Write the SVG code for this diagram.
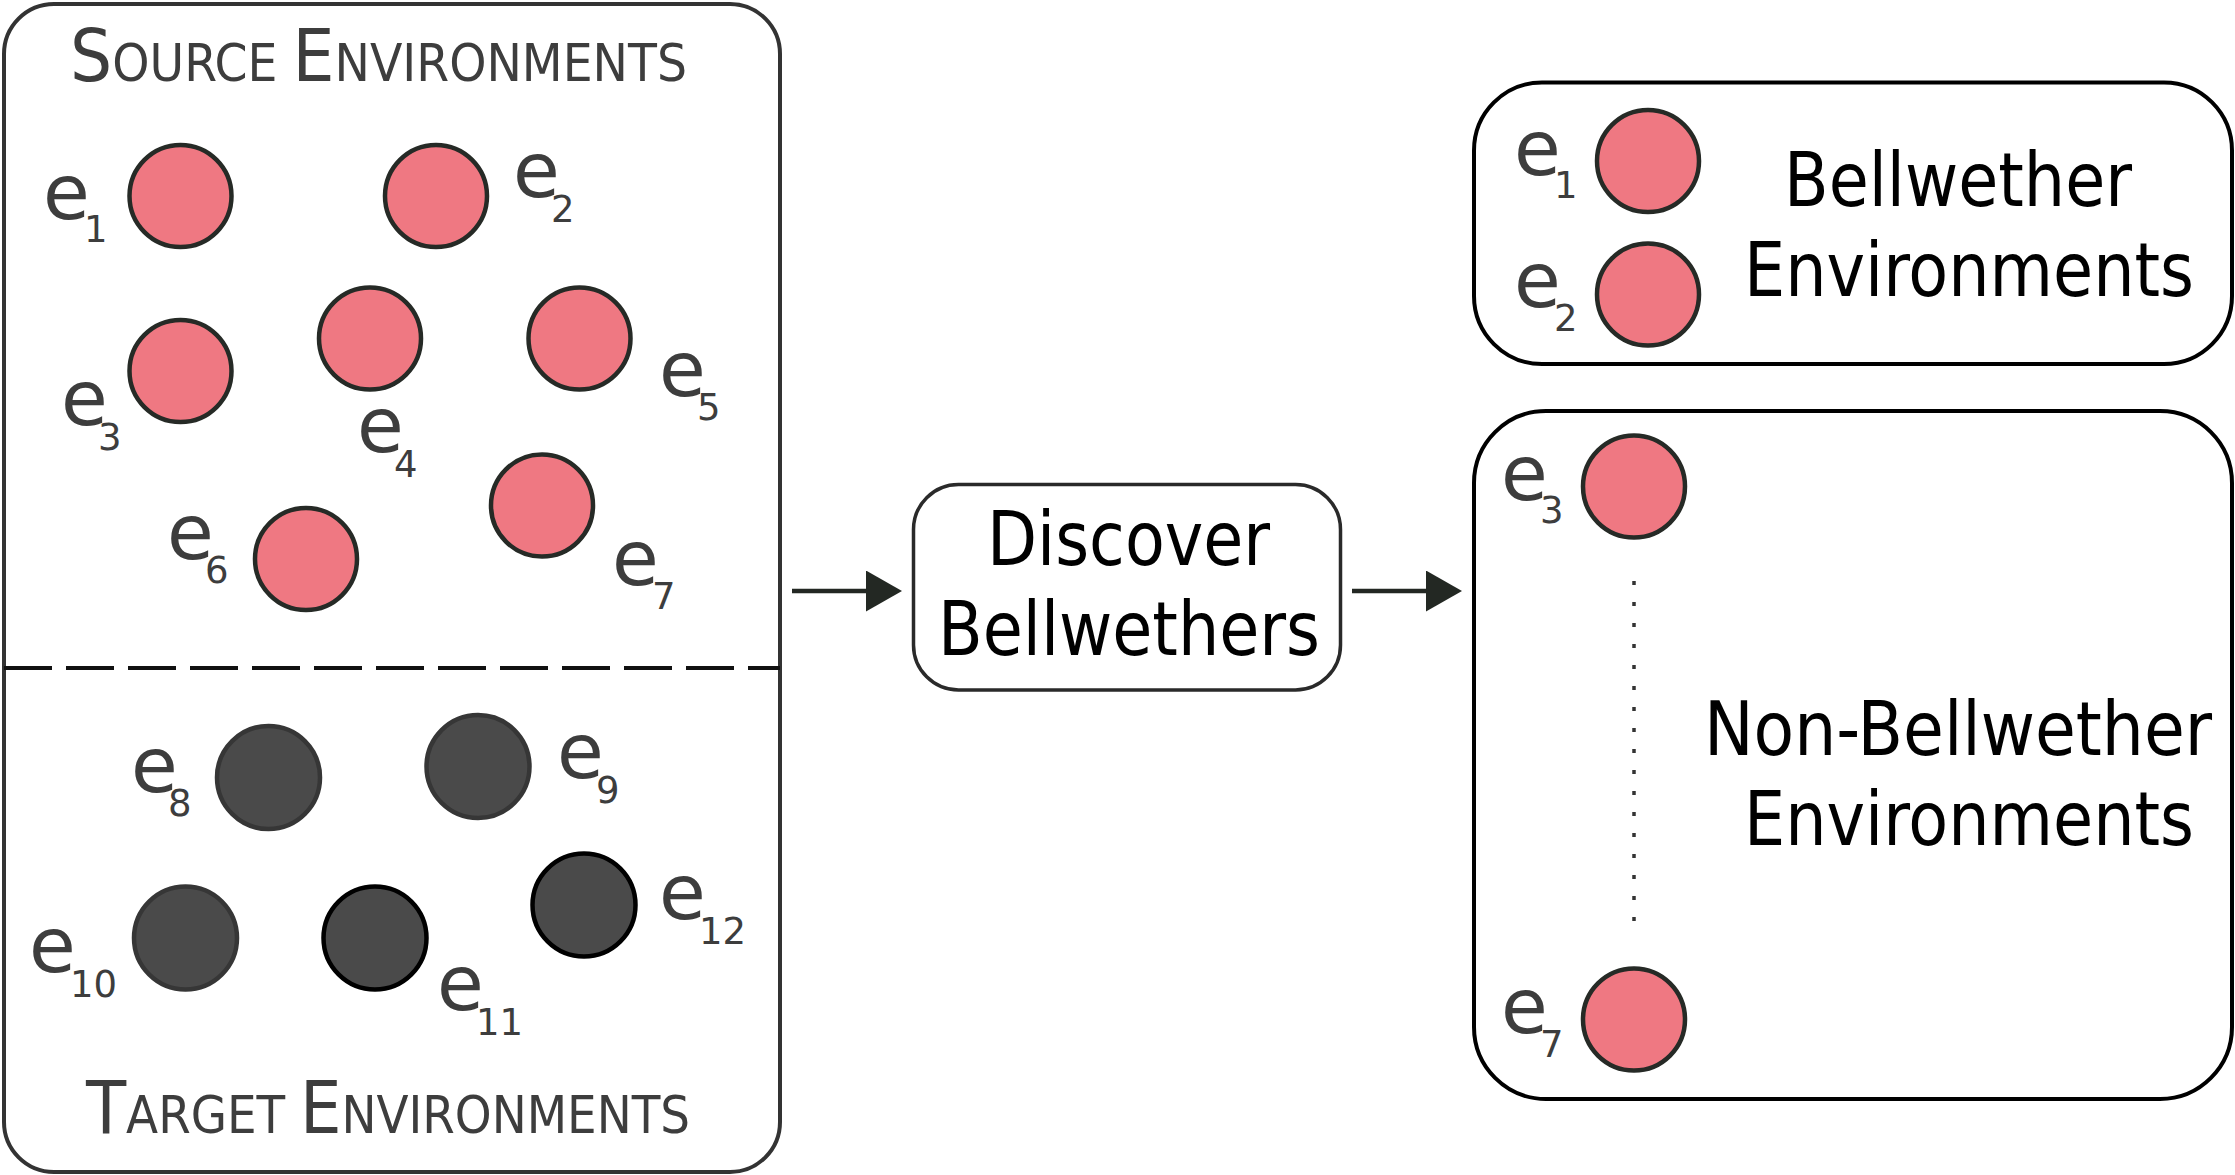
<svg xmlns="http://www.w3.org/2000/svg" width="2235" height="1175" viewBox="0 0 2235 1175">
<defs>
<style>
.box{fill:#fff;stroke:#000;stroke-width:4}
.pink{fill:#EF7882;stroke:#262a26;stroke-width:4.5}
.dark{fill:#4a4a4a;stroke:#363636;stroke-width:4.5}
.darkb{fill:#4a4a4a;stroke:#000;stroke-width:4.5}
.lbl{font-family:"DejaVu Sans","Liberation Sans",sans-serif;font-size:76px;fill:#3d3d3d}
.sub{font-size:37px}
.title{font-family:"DejaVu Sans Condensed","DejaVu Sans",sans-serif;fill:#3d3d3d}
.big{font-size:73px}
.sc{font-size:52px}
.word{font-family:"DejaVu Sans Condensed","DejaVu Sans",sans-serif;font-size:75px;fill:#000;text-anchor:middle}
.conn{stroke:#232823;stroke-width:4.5;fill:none}
</style>
<marker id="arr" viewBox="0 0 36 41" refX="0" refY="20.5" markerWidth="36" markerHeight="41" markerUnits="userSpaceOnUse" orient="auto">
<path d="M0,0 L36,20.5 L0,41 Z" fill="#232823"/>
</marker>
</defs>
<rect width="2235" height="1175" fill="#fff"/>

<g id="source-target-panel">
<rect x="4" y="4" width="776" height="1168" rx="50" ry="50" class="box" style="stroke:#333"/>
<line x1="4" y1="668" x2="780" y2="668" stroke="#111" stroke-width="4" stroke-dasharray="48 14"/>
<text class="title" x="70" y="81" textLength="617" lengthAdjust="spacingAndGlyphs"><tspan class="big">S</tspan><tspan class="sc">OURCE </tspan><tspan class="big">E</tspan><tspan class="sc">NVIRONMENTS</tspan></text>
<text class="title" x="86" y="1133" textLength="604" lengthAdjust="spacingAndGlyphs"><tspan class="big">T</tspan><tspan class="sc">ARGET </tspan><tspan class="big">E</tspan><tspan class="sc">NVIRONMENTS</tspan></text>
</g>

<g id="src-e1"><circle cx="180.5" cy="196" r="51" class="pink"/><text class="lbl" x="43" y="218.5">e<tspan class="sub" x="84" y="242">1</tspan></text></g>
<g id="src-e2"><circle cx="436" cy="196" r="51" class="pink"/><text class="lbl" x="513" y="197">e<tspan class="sub" x="551" y="222">2</tspan></text></g>
<g id="src-e3"><circle cx="180.5" cy="371" r="51" class="pink"/><text class="lbl" x="61" y="425">e<tspan class="sub" x="98" y="450">3</tspan></text></g>
<g id="src-e4"><circle cx="370" cy="338.5" r="51" class="pink"/><text class="lbl" x="357" y="452">e<tspan class="sub" x="394" y="477">4</tspan></text></g>
<g id="src-e5"><circle cx="579.5" cy="338.5" r="51" class="pink"/><text class="lbl" x="659" y="395.5">e<tspan class="sub" x="697" y="420">5</tspan></text></g>
<g id="src-e6"><circle cx="306" cy="559" r="51" class="pink"/><text class="lbl" x="167" y="559">e<tspan class="sub" x="205" y="583">6</tspan></text></g>
<g id="src-e7"><circle cx="542" cy="505.5" r="51" class="pink"/><text class="lbl" x="612" y="585">e<tspan class="sub" x="652" y="609">7</tspan></text></g>

<g id="tgt-e8"><circle cx="268.5" cy="777.5" r="51.5" class="dark"/><text class="lbl" x="131" y="792">e<tspan class="sub" x="168" y="816">8</tspan></text></g>
<g id="tgt-e9"><circle cx="478" cy="766.5" r="51.5" class="dark"/><text class="lbl" x="557" y="778">e<tspan class="sub" x="596" y="803">9</tspan></text></g>
<g id="tgt-e10"><circle cx="185.5" cy="938" r="51.5" class="dark"/><text class="lbl" x="29" y="972">e<tspan class="sub" x="70" y="997">10</tspan></text></g>
<g id="tgt-e11"><circle cx="375" cy="938" r="51.5" class="darkb"/><text class="lbl" x="437" y="1010">e<tspan class="sub" x="476" y="1035">11</tspan></text></g>
<g id="tgt-e12"><circle cx="584" cy="905" r="51.5" class="darkb"/><text class="lbl" x="659" y="919">e<tspan class="sub" x="699" y="944">12</tspan></text></g>

<g id="discover">
<rect x="913.5" y="484.5" width="427" height="205.5" rx="45" ry="45" class="box" style="stroke:#2a2a2a;stroke-width:3.5"/>
<text class="word" x="1128.5" y="565" textLength="283" lengthAdjust="spacingAndGlyphs">Discover</text>
<text class="word" x="1129" y="655" textLength="382" lengthAdjust="spacingAndGlyphs">Bellwethers</text>
</g>

<g id="bellwether">
<rect x="1474" y="82.5" width="758" height="281.5" rx="68" ry="68" class="box"/>
<circle cx="1648" cy="161" r="51" class="pink"/>
<circle cx="1648" cy="294.5" r="51" class="pink"/>
<text class="lbl" x="1514" y="175">e<tspan class="sub" x="1554" y="198">1</tspan></text>
<text class="lbl" x="1514" y="306.5">e<tspan class="sub" x="1554" y="331">2</tspan></text>
<text class="word" x="1958" y="205.5" textLength="348" lengthAdjust="spacingAndGlyphs">Bellwether</text>
<text class="word" x="1969" y="296" textLength="450" lengthAdjust="spacingAndGlyphs">Environments</text>
</g>

<g id="non-bellwether">
<rect x="1474" y="411" width="758" height="688" rx="72" ry="72" class="box"/>
<circle cx="1634" cy="486.5" r="51" class="pink"/>
<circle cx="1634" cy="1019.5" r="51" class="pink"/>
<line x1="1634" y1="581" x2="1634" y2="922" stroke="#333" stroke-width="3.5" stroke-dasharray="4 17"/>
<text class="lbl" x="1501" y="500">e<tspan class="sub" x="1540" y="523">3</tspan></text>
<text class="lbl" x="1501" y="1033">e<tspan class="sub" x="1540" y="1057">7</tspan></text>
<text class="word" x="1958" y="755" textLength="508" lengthAdjust="spacingAndGlyphs">Non-Bellwether</text>
<text class="word" x="1969" y="844.5" textLength="450" lengthAdjust="spacingAndGlyphs">Environments</text>
</g>

<g id="connectors">
<line x1="792" y1="591" x2="866" y2="591" class="conn" marker-end="url(#arr)"/>
<line x1="1352" y1="591" x2="1426" y2="591" class="conn" marker-end="url(#arr)"/>
</g>
</svg>
